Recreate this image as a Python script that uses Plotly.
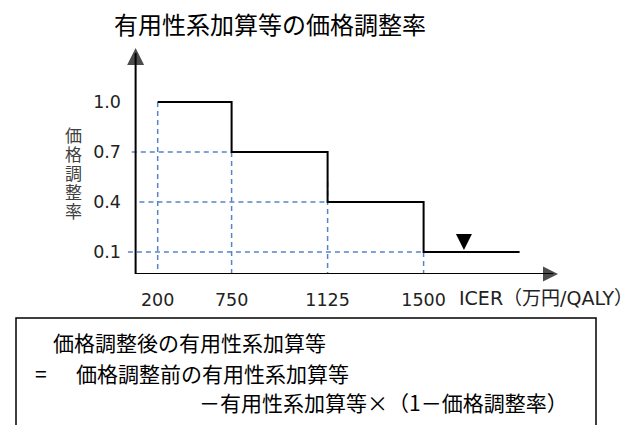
import plotly.graph_objects as go

# ICER thresholds (万円/QALY) and the price adjustment rate of each band
icer_labels = ["200", "750", "1125", "1500"]
rates = [1.0, 0.7, 0.4, 0.1]

# schematic horizontal positions of the thresholds (last value = end of the tail)
x_break = [0.23, 1.0, 2.0, 3.0, 4.0]
# top of each vertical guide and left end of each horizontal guide
guide_top = [1.0, 0.7, 0.52, 0.1]
guide_left = [-0.04, 0.04, -0.08]
# marker above the last band
marker_x = [3.42]
marker_y = [0.112]

# axis frame
x_min, x_end = -0.1, 4.4
y_base, y_top = -0.032, 1.324

W, H = 640, 425
L, R, T, B = 126, 82, 48, 151
plot_w, plot_h = W - L - R, H - T - B


def px_x(px):
    return (px - L) / plot_w


def px_y(py):
    return (H - B - py) / plot_h


JP = "Noto Sans CJK JP"
NUM = "DejaVu Sans"
GUIDE = "#5585C8"

fig = go.Figure()

# dashed guide lines
gx, gy = [], []
for xb, top in zip(x_break[:4], guide_top):
    gx += [xb, xb, None]
    gy += [top, y_base, None]
for left, xb, r in zip(guide_left, x_break[1:4], rates[1:]):
    gx += [left, xb, None]
    gy += [r, r, None]
fig.add_trace(go.Scatter(
    x=gx, y=gy, mode="lines",
    line=dict(color=GUIDE, width=1.5, dash="5px,4px"),
    hoverinfo="skip", showlegend=False, cliponaxis=False,
))

# step function of the adjustment rate
fig.add_trace(go.Scatter(
    x=x_break, y=rates + [rates[-1]], mode="lines",
    line=dict(color="black", width=2, shape="hv"),
    showlegend=False,
))

# axes with arrowheads
fig.add_trace(go.Scatter(
    x=[0, 0, None, 0, x_end - 0.05], y=[y_base, y_top - 0.03, None, y_base, y_base],
    mode="lines", line=dict(color="black", width=2),
    hoverinfo="skip", showlegend=False, cliponaxis=False,
))
fig.add_trace(go.Scatter(
    x=[0, x_end], y=[y_top, y_base], mode="markers",
    marker=dict(symbol=["arrow-up", "arrow-right"], size=[17, 15], color="black",
                line=dict(width=0)),
    hoverinfo="skip", showlegend=False, cliponaxis=False,
))
fig.add_trace(go.Scatter(
    x=marker_x, y=marker_y, mode="markers",
    marker=dict(symbol="arrow-down", size=16, color="black", line=dict(width=0)),
    hoverinfo="skip", showlegend=False, cliponaxis=False,
))

annotations = []
# vertical axis title, one character per line
for i, ch in enumerate("価格調整率"):
    annotations.append(dict(
        text=ch, x=px_x(73), y=px_y(134 + 19 * i), xref="paper", yref="paper",
        xanchor="center", yanchor="middle", showarrow=False, height=19,
        font=dict(family=JP, size=17, color="#404040"),
    ))
# horizontal axis unit
annotations.append(dict(
    text="ICER（万円/QALY）",
    x=px_x(457), y=px_y(298), xref="paper", yref="paper",
    xanchor="left", yanchor="middle", showarrow=False,
    font=dict(family=NUM + ", " + JP, size=19, color="#222222"),
))
# formula box text
box_lines = [
    ("価格調整後の有用性系加算等", 51, 342),
    ("=", 33, 373),
    ("価格調整前の有用性系加算等", 74, 373),
    ("－有用性系加算等×（1－価格調整率）", 197, 402),
]
for txt, x0, yc in box_lines:
    annotations.append(dict(
        text=txt, x=px_x(x0), y=px_y(yc), xref="paper", yref="paper",
        xanchor="left", yanchor="middle", showarrow=False,
        font=dict(family=JP, size=21, color="black"),
    ))

fig.update_layout(
    width=W, height=H,
    margin=dict(l=L, r=R, t=T, b=B, pad=0),
    paper_bgcolor="white", plot_bgcolor="white",
    title=dict(
        text="有用性系加算等の価格調整率", x=270 / W, y=1 - 26 / H,
        xref="container", yref="container", xanchor="center", yanchor="middle",
        font=dict(family=JP, size=24, color="black"),
    ),
    xaxis=dict(
        range=[x_min, x_end], showgrid=False, zeroline=False, showline=False,
        tickvals=x_break[:4], ticktext=icer_labels, ticks="",
        ticklabelstandoff=13,
        tickfont=dict(family=NUM, size=17.5, color="#222222"),
        fixedrange=True,
    ),
    yaxis=dict(
        range=[y_base, y_top], showgrid=False, zeroline=False, showline=False,
        tickvals=rates, ticktext=[f"{r:.1f}" for r in rates], ticks="",
        ticklabelstandoff=4,
        tickfont=dict(family=NUM, size=17.5, color="#222222"),
        fixedrange=True,
    ),
    annotations=annotations,
    shapes=[dict(
        type="rect", xref="paper", yref="paper",
        x0=px_x(16), x1=px_x(596), y0=px_y(440), y1=px_y(318),
        line=dict(color="black", width=1.5), fillcolor="rgba(0,0,0,0)",
    )],
    showlegend=False,
)

fig.write_html("out.html")
